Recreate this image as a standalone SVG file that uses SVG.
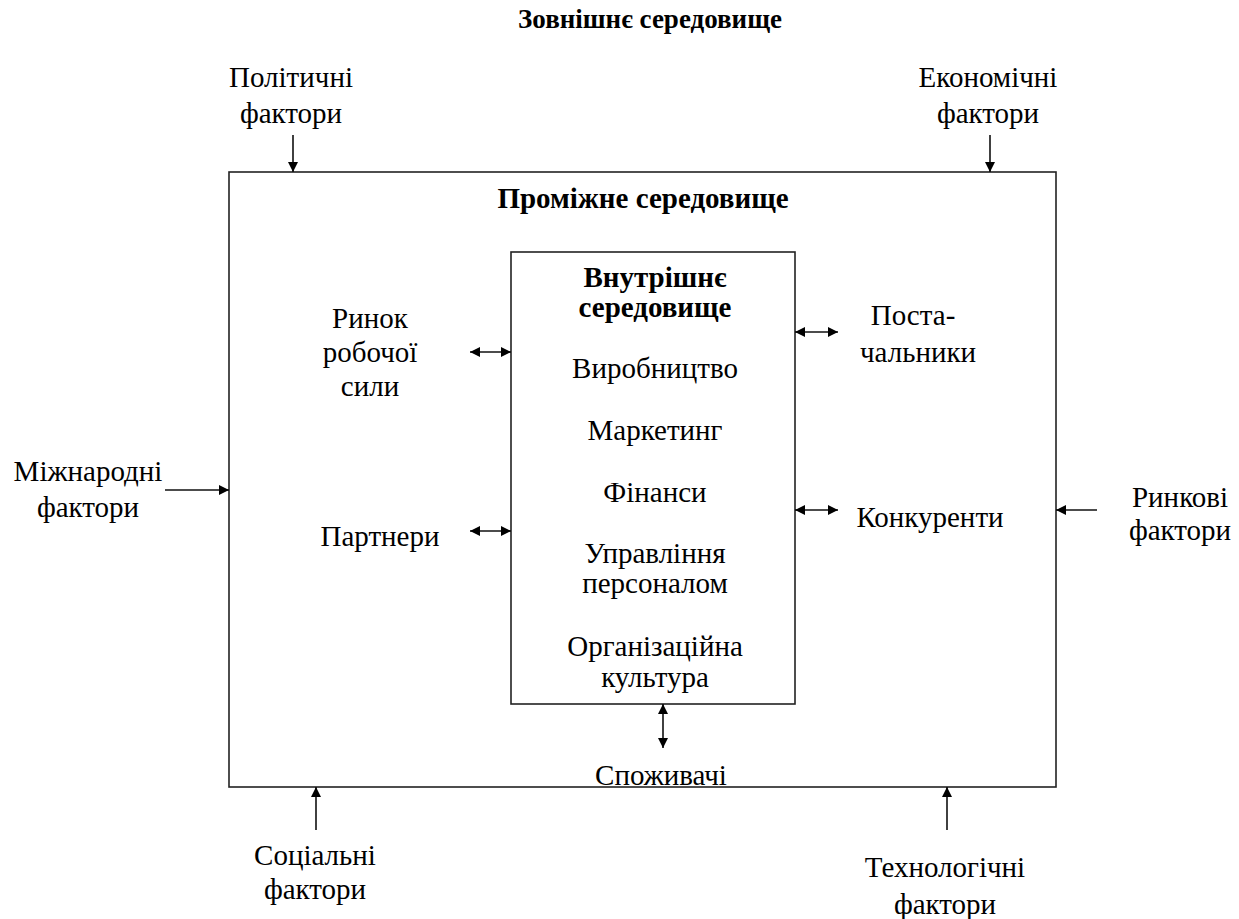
<svg xmlns="http://www.w3.org/2000/svg" width="1239" height="919" viewBox="0 0 1239 919">
<defs>
<marker id="ah" viewBox="0 0 10 10" refX="10" refY="5" markerWidth="11" markerHeight="10" markerUnits="userSpaceOnUse" orient="auto-start-reverse">
<path d="M0,0 L10,5 L0,10 z" fill="#000"/>
</marker>
<style>
text{font-family:"Liberation Serif","Times New Roman",serif;font-size:29px;fill:#000;text-anchor:middle}
.b{font-weight:bold}
.t{font-size:27px}
.box{fill:none;stroke:#222;stroke-width:1.6}
.c{stroke:#111;stroke-width:1.6;fill:none}
</style>
</defs>
<rect width="1239" height="919" fill="#fff"/>
<text class="b t" x="650" y="28">Зовнішнє середовище</text>
<g id="outer">
<rect class="box" x="229" y="172" width="827" height="615"/>
<text class="b" x="643" y="208">Проміжне середовище</text>
</g>
<g id="inner">
<rect class="box" x="511" y="252" width="284" height="452"/>
<text class="b" x="655" y="287">Внутрішнє</text>
<text class="b" x="655" y="317">середовище</text>
<text x="655" y="378">Виробництво</text>
<text x="655" y="440">Маркетинг</text>
<text x="655" y="502">Фінанси</text>
<text x="655" y="563">Управління</text>
<text x="655" y="593">персоналом</text>
<text x="655" y="656">Організаційна</text>
<text x="655" y="687">культура</text>
</g>
<g id="political"><text x="291" y="87">Політичні</text><text x="291" y="123">фактори</text></g>
<g id="economic"><text x="988" y="87">Економічні</text><text x="988" y="123">фактори</text></g>
<g id="international"><text x="88" y="481">Міжнародні</text><text x="88" y="517">фактори</text></g>
<g id="market"><text x="1180" y="507">Ринкові</text><text x="1180" y="540">фактори</text></g>
<g id="social"><text x="315" y="865">Соціальні</text><text x="315" y="899">фактори</text></g>
<g id="tech"><text x="945" y="877">Технологічні</text><text x="945" y="914">фактори</text></g>
<g id="labour"><text x="370" y="328">Ринок</text><text x="370" y="362">робочої</text><text x="370" y="396">сили</text></g>
<g id="partners"><text x="380" y="546">Партнери</text></g>
<g id="suppliers"><text x="913" y="325">Поста-</text><text x="918" y="362">чальники</text></g>
<g id="competitors"><text x="930" y="527">Конкуренти</text></g>
<g id="consumers"><text x="661" y="785">Споживачі</text></g>
<g id="connectors">
<line class="c" x1="293" y1="135" x2="293" y2="172" marker-end="url(#ah)"/>
<line class="c" x1="990" y1="135" x2="990" y2="172" marker-end="url(#ah)"/>
<line class="c" x1="165" y1="490" x2="229" y2="490" marker-end="url(#ah)"/>
<line class="c" x1="1097" y1="510" x2="1056" y2="510" marker-end="url(#ah)"/>
<line class="c" x1="316" y1="830" x2="316" y2="787" marker-end="url(#ah)"/>
<line class="c" x1="947" y1="830" x2="947" y2="787" marker-end="url(#ah)"/>
<line class="c" x1="470" y1="352" x2="511" y2="352" marker-start="url(#ah)" marker-end="url(#ah)"/>
<line class="c" x1="470" y1="531" x2="511" y2="531" marker-start="url(#ah)" marker-end="url(#ah)"/>
<line class="c" x1="795" y1="332" x2="838" y2="332" marker-start="url(#ah)" marker-end="url(#ah)"/>
<line class="c" x1="795" y1="510" x2="838" y2="510" marker-start="url(#ah)" marker-end="url(#ah)"/>
<line class="c" x1="663" y1="704" x2="663" y2="748" marker-start="url(#ah)" marker-end="url(#ah)"/>
</g>
</svg>
